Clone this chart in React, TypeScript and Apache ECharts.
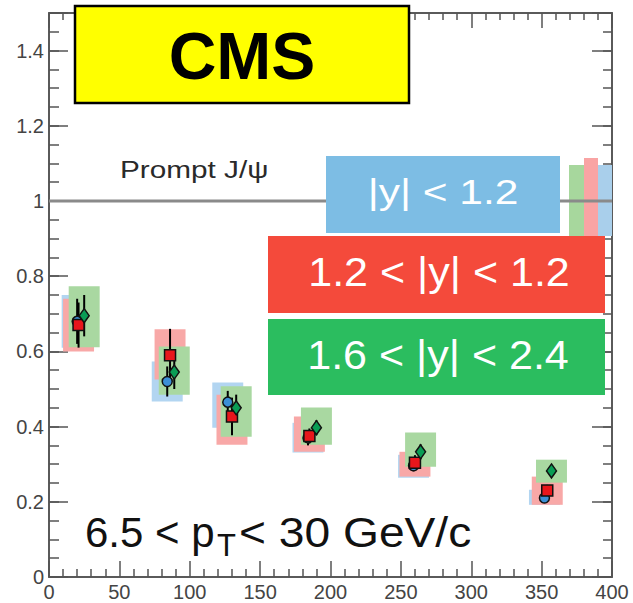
import React, { useEffect, useRef } from 'react';
import * as echarts from 'echarts';

// ---- axis ranges / ticks ----
const X_MIN = 0;
const X_MAX = 400;
const X_MAJOR = 50;
const X_MINOR_SPLIT = 5;
const Y_MIN = 0;
const Y_MAX = 1.5;
const Y_MAJOR = 0.2;
const Y_MINOR = 0.05;

// ---- data: |y| < 1.2 (blue circles) ----
const NPART_BLUE = [20, 84, 127, 184, 259, 352];
const RAA_BLUE = [0.68, 0.52, 0.465, 0.37, 0.296, 0.21];
const STAT_BLUE = [0.06, 0.04, 0.03, 0.02, 0.015, 0.012];
const SYS_LO_BLUE = [0.61, 0.467, 0.397, 0.331, 0.264, 0.192];
const SYS_HI_BLUE = [0.75, 0.573, 0.517, 0.41, 0.325, 0.232];

// ---- data: 1.2 < |y| < 1.6 (red squares) ----
const NPART_RED = [21, 86, 130, 185, 260, 354];
const RAA_RED = [0.67, 0.59, 0.427, 0.375, 0.304, 0.23];
const STAT_RED = [0.06, 0.07, 0.05, 0.02, 0.02, 0.015];
const SYS_LO_RED = [0.6, 0.525, 0.352, 0.333, 0.267, 0.192];
const SYS_HI_RED = [0.74, 0.659, 0.485, 0.427, 0.333, 0.267];

// ---- data: 1.6 < |y| < 2.4 (green diamonds) ----
const NPART_GREEN = [25, 89, 133, 190, 264, 357];
const RAA_GREEN = [0.695, 0.545, 0.45, 0.397, 0.333, 0.282];
const STAT_GREEN = [0.055, 0.045, 0.035, 0.02, 0.02, 0.015];
const SYS_LO_GREEN = [0.611, 0.485, 0.373, 0.352, 0.293, 0.251];
const SYS_HI_GREEN = [0.773, 0.613, 0.507, 0.451, 0.384, 0.312];

const BOX_HALF_WIDTH = 11; // x units
const REF_LINE = 1;

// ---- texts ----
const TITLE = 'CMS';
const REF_LABEL = 'Prompt J/\u03C8';
const LEGEND_LABELS = ['|y| < 1.2', '1.2 < |y| < 1.2', '1.6 < |y| < 2.4'];
const KIN_TEXT = ['6.5 < p', 'T', '< 30 GeV/c'];

const FONT = '"Liberation Sans", Arial, Helvetica, sans-serif';

function boxSeries(xs: number[], lo: number[], hi: number[], color: string, z: number) {
  return {
    type: 'custom',
    z,
    silent: true,
    xAxisIndex: 0,
    yAxisIndex: 0,
    encode: { x: 0, y: [1, 2] },
    data: xs.map((x, i) => [x, lo[i], hi[i]]),
    renderItem: (_p: any, api: any) => {
      const x = api.value(0) as number;
      const a = api.coord([x - BOX_HALF_WIDTH, api.value(2)]);
      const b = api.coord([x + BOX_HALF_WIDTH, api.value(1)]);
      return {
        type: 'rect',
        shape: { x: a[0], y: a[1], width: b[0] - a[0], height: b[1] - a[1] },
        style: { fill: color },
      };
    },
  };
}

function errSeries(xs: number[], ys: number[], es: number[], z: number) {
  return {
    type: 'custom',
    z,
    silent: true,
    xAxisIndex: 0,
    yAxisIndex: 0,
    encode: { x: 0, y: [1, 2] },
    data: xs.map((x, i) => [x, ys[i] - es[i], ys[i] + es[i]]),
    renderItem: (_p: any, api: any) => {
      const x = api.value(0) as number;
      const a = api.coord([x, api.value(1)]);
      const b = api.coord([x, api.value(2)]);
      return {
        type: 'line',
        shape: { x1: a[0], y1: a[1], x2: b[0], y2: b[1] },
        style: { stroke: '#000', lineWidth: 2 },
      };
    },
  };
}

function pointSeries(xs: number[], ys: number[], symbol: string, size: any, color: string) {
  return {
    type: 'scatter',
    z: 6,
    data: xs.map((x, i) => [x, ys[i]]),
    symbol,
    symbolSize: size,
    itemStyle: { color, borderColor: '#111', borderWidth: 1.5, opacity: 1 },
  };
}

const tickStyle = { color: '#555', width: 1.5 };
const lineStyle = { color: '#5a5a5a', width: 2 };

export default function App() {
  const ref = useRef<HTMLDivElement>(null);
  useEffect(() => {
    if (!ref.current) return;
    const chart = echarts.init(ref.current, undefined, { renderer: 'svg' });
    const xBase = { type: 'value', min: X_MIN, max: X_MAX, interval: X_MAJOR, splitLine: { show: false } };
    const yBase = { type: 'value', min: Y_MIN, max: Y_MAX, splitLine: { show: false } };
    chart.setOption({
      animation: false,
      backgroundColor: '#fff',
      textStyle: { fontFamily: FONT },
      grid: { left: 49, right: 21, top: 13, bottom: 26, containLabel: false },
      xAxis: [
        {
          ...xBase,
          position: 'bottom',
          axisLine: { show: true, onZero: false, lineStyle },
          axisTick: { show: true, inside: true, length: 16, lineStyle: tickStyle },
          minorTick: { show: true, splitNumber: X_MINOR_SPLIT, length: 8, lineStyle: tickStyle },
          axisLabel: { show: true, fontSize: 20, color: '#444', margin: 5, fontFamily: FONT },
        },
        {
          ...xBase,
          position: 'top',
          axisLine: { show: true, onZero: false, lineStyle },
          axisTick: { show: true, inside: true, length: 15, lineStyle: tickStyle },
          minorTick: { show: true, splitNumber: X_MINOR_SPLIT, length: 7, lineStyle: tickStyle },
          axisLabel: { show: false },
        },
      ],
      yAxis: [
        {
          ...yBase,
          interval: Y_MAJOR,
          position: 'left',
          axisLine: { show: true, onZero: false, lineStyle },
          axisTick: { show: true, inside: true, length: 19, lineStyle: tickStyle },
          axisLabel: {
            show: true,
            fontSize: 20,
            color: '#444',
            margin: 5,
            fontFamily: FONT,
            formatter: (v: number) => (v > Y_MAX - Y_MINOR ? '' : String(Math.round(v * 10) / 10)),
          },
        },
        {
          ...yBase,
          interval: Y_MINOR,
          position: 'left',
          axisLine: { show: false, onZero: false },
          axisTick: { show: true, inside: true, length: 10, lineStyle: tickStyle },
          axisLabel: { show: false },
        },
        {
          ...yBase,
          interval: Y_MAJOR,
          position: 'right',
          axisLine: { show: true, onZero: false, lineStyle },
          axisTick: { show: true, inside: true, length: 20, lineStyle: tickStyle },
          axisLabel: { show: false },
        },
        {
          ...yBase,
          interval: Y_MINOR,
          position: 'right',
          axisLine: { show: false, onZero: false },
          axisTick: { show: true, inside: true, length: 9, lineStyle: tickStyle },
          axisLabel: { show: false },
        },
      ],
      series: [
        {
          type: 'line',
          z: 3,
          silent: true,
          symbol: 'none',
          data: [[X_MIN, REF_LINE], [X_MAX, REF_LINE]],
          lineStyle: { color: '#8a8a8a', width: 3 },
        },
        boxSeries(NPART_BLUE, SYS_LO_BLUE, SYS_HI_BLUE, '#b2d5f1', 2),
        boxSeries(NPART_RED, SYS_LO_RED, SYS_HI_RED, '#f8a8a7', 2),
        boxSeries(NPART_GREEN, SYS_LO_GREEN, SYS_HI_GREEN, '#a9d8a1', 2),
        errSeries(NPART_BLUE, RAA_BLUE, STAT_BLUE, 4),
        errSeries(NPART_RED, RAA_RED, STAT_RED, 4),
        errSeries(NPART_GREEN, RAA_GREEN, STAT_GREEN, 4),
        pointSeries(NPART_BLUE, RAA_BLUE, 'circle', 10, '#3b8fd6'),
        pointSeries(NPART_RED, RAA_RED, 'rect', 11, '#e8161c'),
        pointSeries(NPART_GREEN, RAA_GREEN, 'diamond', [10, 14], '#0a9d55'),
      ],
      graphic: [
        // legend fragments behind the reference line
        { type: 'rect', z: 1, shape: { x: 569, y: 165, width: 15, height: 71 }, style: { fill: '#a7d79d' } },
        { type: 'rect', z: 1, shape: { x: 584, y: 158, width: 14, height: 78 }, style: { fill: '#f9a4a4' } },
        { type: 'rect', z: 1, shape: { x: 598, y: 165, width: 14, height: 71 }, style: { fill: '#a9cfeb' } },
        // CMS box
        {
          type: 'rect', z: 100,
          shape: { x: 75, y: 6, width: 334, height: 97 },
          style: { fill: '#ffff00', stroke: '#000', lineWidth: 2.5 },
        },
        {
          type: 'text', z: 101, x: 242, y: 56,
          style: { text: TITLE, fontSize: 66, fontWeight: 'bold', fill: '#000', align: 'center', verticalAlign: 'middle', fontFamily: FONT },
        },
        {
          type: 'text', z: 101, x: 120, y: 170, scaleX: 1.24,
          style: { text: REF_LABEL, fontSize: 24, fill: '#2a2a2a', align: 'left', verticalAlign: 'middle', fontFamily: FONT },
        },
        // rapidity labels
        { type: 'rect', z: 100, shape: { x: 326, y: 156, width: 234, height: 77 }, style: { fill: '#7dbde4' } },
        {
          type: 'text', z: 101, x: 443, y: 191, scaleX: 1.18,
          style: { text: LEGEND_LABELS[0], fontSize: 36, fill: '#fff', align: 'center', verticalAlign: 'middle', fontFamily: FONT },
        },
        { type: 'rect', z: 100, shape: { x: 268, y: 236, width: 337, height: 77 }, style: { fill: '#f44a3b' } },
        {
          type: 'text', z: 101, x: 439, y: 272, scaleX: 1.05,
          style: { text: LEGEND_LABELS[1], fontSize: 41, fill: '#fff', align: 'center', verticalAlign: 'middle', fontFamily: FONT },
        },
        { type: 'rect', z: 100, shape: { x: 268, y: 319, width: 337, height: 76 }, style: { fill: '#2bbd5f' } },
        {
          type: 'text', z: 101, x: 438, y: 355, scaleX: 1.05,
          style: { text: LEGEND_LABELS[2], fontSize: 41, fill: '#fff', align: 'center', verticalAlign: 'middle', fontFamily: FONT },
        },
        // kinematic range
        {
          type: 'text', z: 101, x: 85, y: 532,
          style: { text: KIN_TEXT[0], fontSize: 42, fill: '#111', align: 'left', verticalAlign: 'middle', fontFamily: FONT },
        },
        {
          type: 'text', z: 101, x: 217, y: 545,
          style: { text: KIN_TEXT[1], fontSize: 31, fill: '#111', align: 'left', verticalAlign: 'middle', fontFamily: FONT },
        },
        {
          type: 'text', z: 101, x: 239, y: 532, scaleX: 1.1,
          style: { text: KIN_TEXT[2], fontSize: 42, fill: '#111', align: 'left', verticalAlign: 'middle', fontFamily: FONT },
        },
      ],
    });
    return () => chart.dispose();
  }, []);
  return (
    <div
      ref={ref}
      style={{ position: 'absolute', left: 0, top: 0, width: 633, height: 603, background: '#fff' }}
    />
  );
}
